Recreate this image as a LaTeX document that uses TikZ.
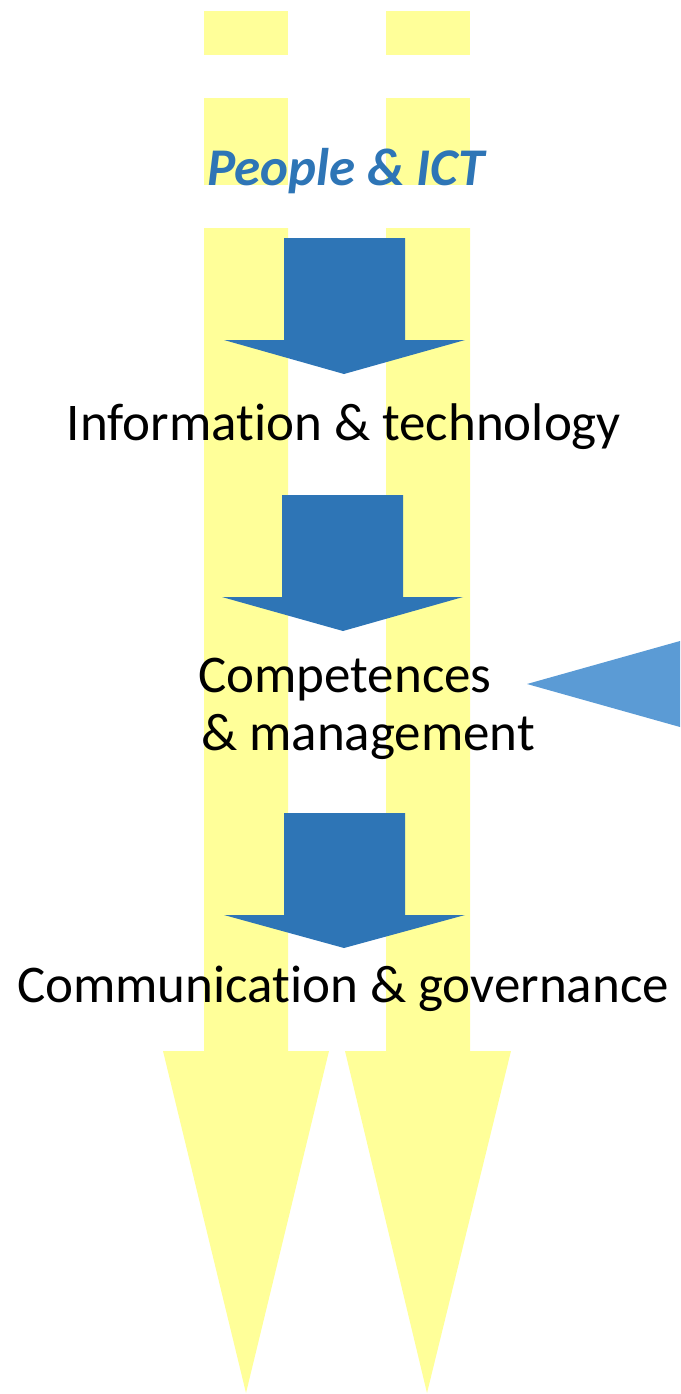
\documentclass[tikz,border=0pt]{standalone}
\usepackage{fontspec}
\setmainfont{Carlito}[Ligatures=NoCommon]
\definecolor{ylw}{HTML}{FFFF99}
\definecolor{dblue}{HTML}{2E75B6}
\definecolor{lblue}{HTML}{5B9BD5}
\begin{document}
\begin{tikzpicture}[x=1pt,y=-1pt,
  lbl/.style={inner sep=0pt, anchor=base west, font=\fontsize{53}{58}\selectfont, text=black},
  yfill/.style={fill=ylw, draw=none},
  bfill/.style={fill=dblue, draw=none}]
\useasboundingbox (0,0) rectangle (680,1394);
% yellow columns (dashed top, long shaft, arrow heads)
\foreach \xl/\xr in {204/288, 386/470} {
  \fill[ylw] (\xl,11) rectangle (\xr,55);
  \fill[ylw] (\xl,98) rectangle (\xr,185);
}
\fill[ylw] (204,228) -- (288,228) -- (288,1051) -- (329,1051) -- (246,1393) -- (163,1051) -- (204,1051) -- cycle;
\fill[ylw] (386,228) -- (470,228) -- (470,1051) -- (511,1051) -- (427,1393) -- (345,1051) -- (386,1051) -- cycle;
% blue block arrows
\fill[dblue] (284,238) -- (405,238) -- (405,340) -- (465,340) -- (344,374) -- (224,340) -- (284,340) -- cycle;
\fill[dblue] (282,495) -- (403,495) -- (403,597) -- (463,597) -- (343,631) -- (222,597) -- (282,597) -- cycle;
\fill[dblue] (284,813) -- (405,813) -- (405,915) -- (465,915) -- (344,948) -- (224,915) -- (284,915) -- cycle;
% light blue triangle from the right
\fill[lblue] (527,684) -- (680,641) -- (680,727) -- cycle;
% texts
\node[lbl, anchor=base, text=dblue, font=\fontsize{53}{58}\selectfont\bfseries\itshape] (people) at (346,185) {People \& ICT};
\node[lbl, anchor=base] (info) at (344,440) {Information \& technology};
\node[lbl] (comp1) at (198,692) {Competences};
\node[lbl] (comp2) at (201,750) {\& management};
\node[lbl, anchor=base] (comm) at (343,1002) {Communication \& governance};
\end{tikzpicture}
\end{document}
